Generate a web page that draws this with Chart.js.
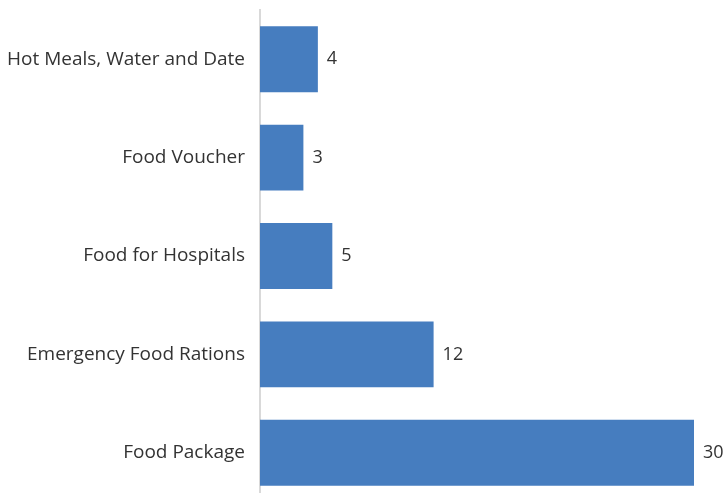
<!DOCTYPE html>
<html>
<head>
<meta charset="utf-8">
<script src="https://cdn.jsdelivr.net/npm/chart.js@4/dist/chart.umd.min.js"></script>
<style>
  html, body { margin: 0; padding: 0; background: #fff; overflow: hidden; }
  #wrap { position: relative; width: 726px; height: 503px; }
</style>
</head>
<body>
<div id="wrap"><canvas id="mycanvas"></canvas></div>
<script>
var categories = ["Hot Meals, Water and Date", "Food Voucher", "Food for Hospitals", "Emergency Food Rations", "Food Package"];
var counts = [4, 3, 5, 12, 30];

// value labels at the end of each bar
var valueLabels = {
  id: "valueLabels",
  afterDatasetsDraw: function(chart) {
    var ctx = chart.ctx;
    var meta = chart.getDatasetMeta(0);
    ctx.save();
    ctx.font = "18px 'Open Sans'";
    ctx.fillStyle = "#333333";
    ctx.textAlign = "left";
    ctx.textBaseline = "middle";
    meta.data.forEach(function(bar, i) {
      ctx.fillText(String(counts[i]), bar.x + 9, bar.y);
    });
    ctx.restore();
  }
};

var ctx = document.getElementById("mycanvas");
var barGraph = new Chart(ctx, {
  type: "bar",
  data: {
    labels: categories,
    datasets: [{
      label: "count",
      data: counts,
      backgroundColor: "#467dbf",
      categoryPercentage: 1,
      barPercentage: 0.67
    }]
  },
  options: {
    indexAxis: "y",
    responsive: true,
    maintainAspectRatio: false,
    animation: false,
    layout: { padding: { top: 10, right: 32, bottom: 1, left: 0 } },
    plugins: { legend: { display: false }, tooltip: { enabled: false } },
    scales: {
      x: {
        display: false,
        min: 0,
        max: 30
      },
      y: {
        grid: { display: false, drawTicks: false },
        border: { display: true, color: "#d9d9d9", width: 2 },
        ticks: {
          color: "#333333",
          font: { family: "'Open Sans'", size: 19 },
          padding: 15
        },
        afterFit: function(scale) {
          scale.width = 260;
          scale.paddingTop = 0;
          scale.paddingBottom = 0;
        }
      }
    }
  },
  plugins: [valueLabels]
});
</script>
</body>
</html>
